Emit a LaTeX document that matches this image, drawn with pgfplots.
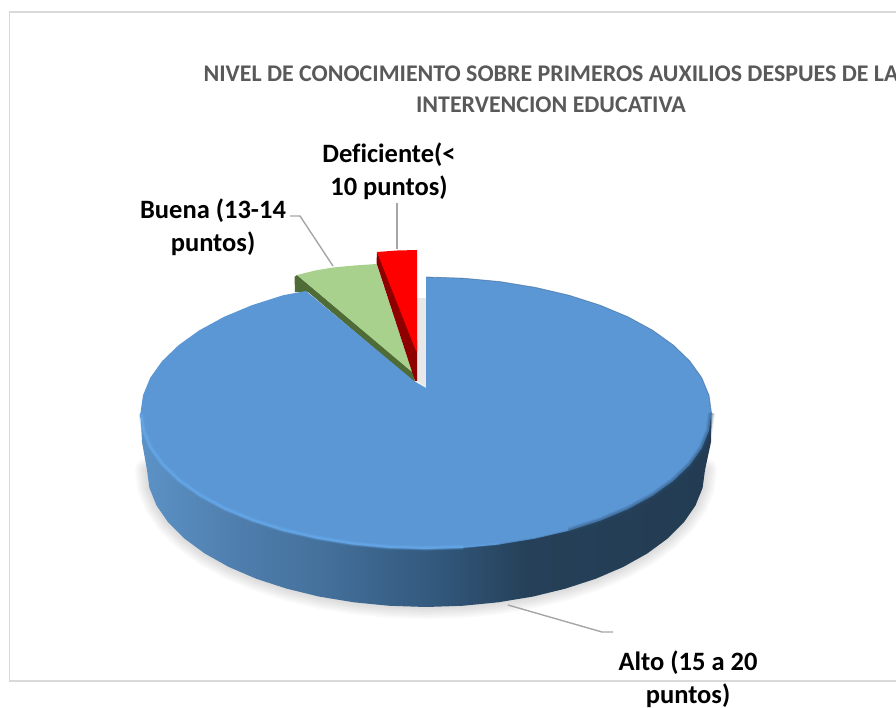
\documentclass[border=0pt]{standalone}
\usepackage{fontspec}
\setmainfont{Carlito}[Ligatures=NoCommon]
\usepackage{pgfplots}
\usepackage{pgfplotstable}
\pgfplotsset{compat=1.18}

\definecolor{framegray}{HTML}{D9D9D9}
\definecolor{leader}{HTML}{A6A6A6}
\definecolor{titlegray}{HTML}{595959}
\definecolor{altoblue}{HTML}{5B97D5}
\definecolor{buenagreen}{HTML}{A9D18E}
\definecolor{buenadark}{HTML}{4F6B36}
\definecolor{deficred}{HTML}{FF0000}
\definecolor{deficdark}{HTML}{8E0000}
\definecolor{rimbright}{HTML}{68ACEE}
\definecolor{rimshade}{HTML}{2A4C6E}
\definecolor{rimthin}{HTML}{3C6996}
\definecolor{wallA}{HTML}{5C92C6}
\definecolor{wallB}{HTML}{4E7DAC}
\definecolor{wallC}{HTML}{44709B}
\definecolor{wallD}{HTML}{32587C}
\definecolor{wallE}{HTML}{254058}
\definecolor{wallF}{HTML}{233C54}

% Front wall of the large slice: light on the left, dark on the right
\pgfdeclarehorizontalshading{altowall}{100bp}{
  color(0bp)=(wallA);
  color(25bp)=(wallA);
  color(34bp)=(wallB);
  color(41bp)=(wallC);
  color(51bp)=(wallD);
  color(59bp)=(wallE);
  color(75bp)=(wallF);
  color(100bp)=(wallF)}

% Outline of the large slice, clockwise from the vertical cut
\pgfplotstableread{
x y
426 277
463.3 278.2
499.9 281.6
535.3 287.4
568.8 295.2
599.8 305.1
627.9 316.8
652.5 330.2
673.2 345
689.8 361
701.8 377.8
709 395.3
711.5 413
709 430.7
701.8 448.2
689.8 465
673.2 481
652.5 495.8
627.9 509.2
599.8 520.9
568.8 530.8
535.3 538.6
499.9 544.4
463.3 547.8
426 549
388.7 547.8
352.1 544.4
316.7 538.6
283.2 530.8
252.2 520.9
224.1 509.2
199.5 495.8
178.8 481
162.2 465
150.2 448.2
143 430.7
140.5 413
143 395.3
150.2 377.8
162.2 361
178.8 345
199.5 330.2
224.1 316.8
252.2 305.1
283.2 295.2
306 291
414 381
426 388
426 277
}\altotop

% Lower rim of the wall, right to left
\pgfplotstableread{
x y
705 470
702.6 487.9
695.5 505.5
683.8 522.4
667.6 538.5
647.4 553.4
623.3 566.9
595.9 578.7
565.5 588.6
532.8 596.6
498.2 602.3
462.4 605.8
426 607
389.6 605.8
353.8 602.3
319.2 596.6
286.5 588.6
256.1 578.7
228.7 566.9
204.6 553.4
184.4 538.5
168.2 522.4
156.5 505.5
149.4 487.9
147 470
}\altobase

% Wall polygon: lower rim plus the two silhouette sides
\pgfplotstableread{
x y
711.5 413
711 442
705 470
702.6 487.9
695.5 505.5
683.8 522.4
667.6 538.5
647.4 553.4
623.3 566.9
595.9 578.7
565.5 588.6
532.8 596.6
498.2 602.3
462.4 605.8
426 607
389.6 605.8
353.8 602.3
319.2 596.6
286.5 588.6
256.1 578.7
228.7 566.9
204.6 553.4
184.4 538.5
168.2 522.4
156.5 505.5
149.4 487.9
147 470
142 442
140.5 413
}\altowall

% Bright bevel on the front left of the top face
\pgfplotstableread{
x y
141 414
143.5 430.5
150.7 447.7
162.7 464.4
179.1 480.3
199.8 495
224.4 508.4
252.5 520
283.4 530
316.9 537.7
352.2 543.5
388.7 547
426 548.2
463.3 547
}\rimlight
\pgfplotstableread{
x y
463.3 547
499.9 543.6
}\rimfade
% Transition from the bright bevel to the dark edge
\pgfplotstableread{
x y
499.9 544.4
535.3 538.6
568.8 530.8
}\rimmid
% Dark soft edge on the front right of the top face
\pgfplotstableread{
x y
568.8 530.8
599.8 520.9
627.9 509.2
652.5 495.8
673.2 481
689.8 465
701.8 448.2
709 430.7
711.5 413
}\rimdark
% Thin line along the back right of the top face
\pgfplotstableread{
x y
426 277
463.3 278.2
499.9 281.6
535.3 287.4
568.8 295.2
599.8 305.1
627.9 316.8
652.5 330.2
673.2 345
689.8 361
701.8 377.8
709 395.3
711.5 413
}\rimback

\begin{document}
\begin{tikzpicture}
\path[clip, use as bounding box] (0,0) rectangle (896bp,708bp);
\begin{axis}[
  at={(0,0)}, anchor=south west,
  width=896bp, height=708bp, scale only axis,
  xmin=0, xmax=896, ymin=0, ymax=708, y dir=reverse,
  hide axis, clip=false,
]
  % Chart frame, open towards the right
  \addplot[framegray, line width=1.5bp] coordinates {(900,12) (9.5,12) (9.5,681) (900,681)};

  % Soft ground shadow, built up from wide translucent strokes
  \addplot[black, opacity=0.022, line width=24bp, line cap=round] table {\altobase};
  \addplot[black, opacity=0.022, line width=20bp, line cap=round] table {\altobase};
  \addplot[black, opacity=0.022, line width=16bp, line cap=round] table {\altobase};
  \addplot[black, opacity=0.022, line width=12bp, line cap=round] table {\altobase};
  \addplot[black, opacity=0.022, line width=8bp, line cap=round] table {\altobase};
  \addplot[black, opacity=0.022, line width=4bp, line cap=round] table {\altobase};

  % Shadow seen through the gap between the slices
  \addplot[fill=black!9, draw=none] coordinates {(416,298) (426,298) (426,388) (416,380)};

  % Small slices, pulled out of the pie
  \addplot[fill=buenadark, draw=none] coordinates {(297,275) (294.5,277) (295,292) (308,292) (415,383) (413,372)};
  \addplot[fill=buenagreen, draw=none] coordinates {(297,275) (315,270.5) (333,267.5) (354,265.5) (376.5,264) (415,381) (412,372)};
  \addplot[fill=deficdark, draw=none] coordinates {(377,252) (376.5,263) (415,381) (417,381) (417,340)};
  \addplot[fill=deficred, draw=none] coordinates {(377,252) (397,250.5) (417,250) (417,351) (416,351)};

  % Large slice: wall, then top face and its edge treatment
  \addplot[shade, shading=altowall, draw=none] table {\altowall};
  \addplot[fill=altoblue, draw=none] table {\altotop};
  \addplot[rimbright, line width=5bp, opacity=0.2] table {\rimlight};
  \addplot[rimbright, line width=3.4bp, opacity=0.3] table {\rimlight};
  \addplot[rimbright, line width=1.8bp, opacity=0.4] table {\rimlight};
  \addplot[rimbright, line width=3bp, opacity=0.2] table {\rimfade};
  \addplot[rimshade, line width=2bp, opacity=0.18] table {\rimmid};
  \addplot[rimshade, line width=7bp, opacity=0.12] table {\rimdark};
  \addplot[rimshade, line width=5bp, opacity=0.18] table {\rimdark};
  \addplot[rimshade, line width=3bp, opacity=0.25] table {\rimdark};
  \addplot[rimthin, line width=0.8bp, opacity=0.6] table {\rimback};

  % Leader lines
  \addplot[leader, line width=1.4bp] coordinates {(397,203) (397,249)};
  \addplot[leader, line width=1.4bp] coordinates {(290,216) (300,216) (333,266)};
  \addplot[leader, line width=1.4bp] coordinates {(508,605) (602,632) (613,632)};

  % Title, wider than the chart area and cut off at its right side
  \node[text=titlegray, font=\fontsize{24}{31.5}\selectfont\bfseries, align=center]
    at (axis cs:551,89) {NIVEL DE CONOCIMIENTO SOBRE PRIMEROS AUXILIOS DESPUES DE LA\\INTERVENCION EDUCATIVA};

  % Category labels
  \node[font=\fontsize{26.6}{33.5}\selectfont\bfseries, align=center]
    at (axis cs:389,171) {Deficiente(<\\10 puntos)};
  \node[font=\fontsize{26.6}{33.5}\selectfont\bfseries, align=center]
    at (axis cs:213,227) {Buena (13-14\\puntos)};
  \node[font=\fontsize{26.6}{33.5}\selectfont\bfseries, align=center]
    at (axis cs:688,679) {Alto (15 a 20\\puntos)};
\end{axis}
\end{tikzpicture}
\end{document}
